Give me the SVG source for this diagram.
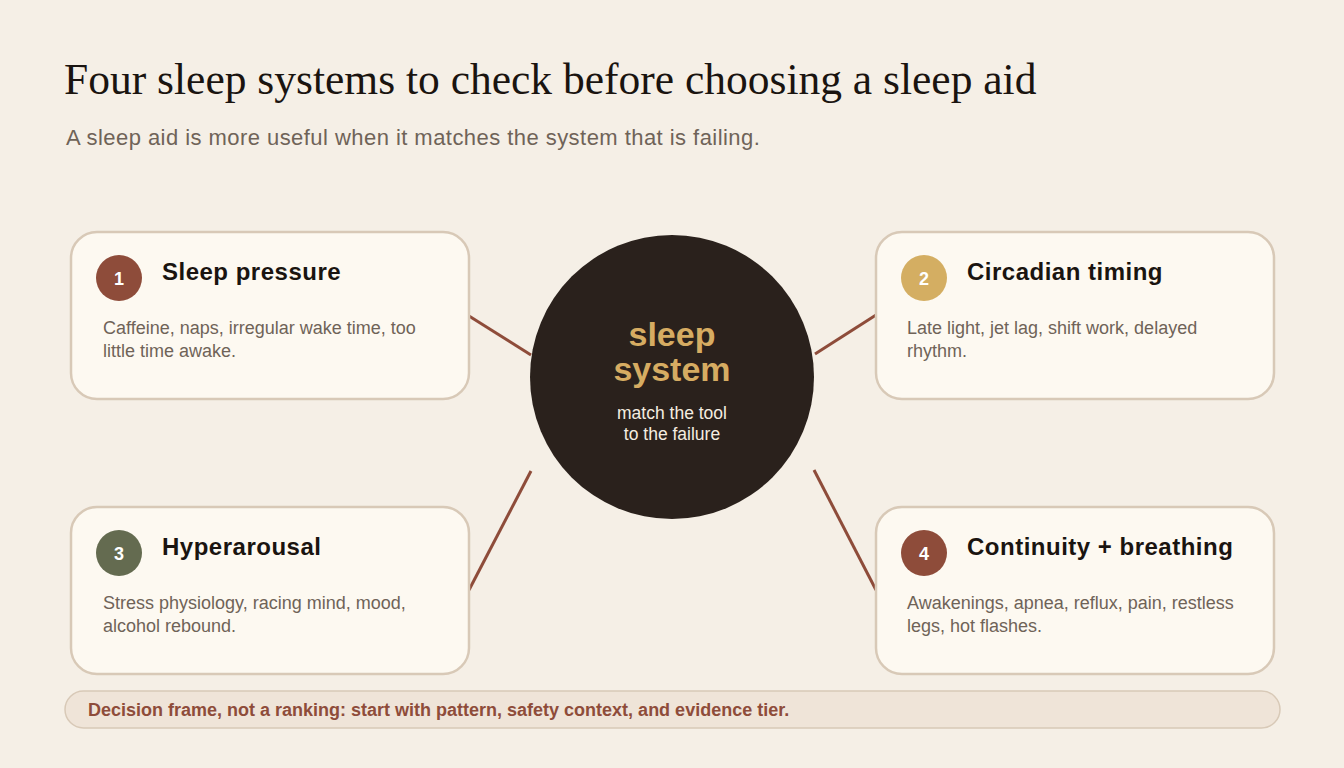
<svg xmlns="http://www.w3.org/2000/svg" width="1344" height="768" viewBox="0 0 1344 768">
<style>
.card{fill:#fdf9f1;stroke:#d8c9b7;stroke-width:2.5}
.num{font-family:"Liberation Sans",Arial,sans-serif;font-weight:bold;font-size:18px;fill:#ffffff;text-anchor:middle}
.ttl{font-family:"Liberation Sans",Arial,sans-serif;font-weight:bold;font-size:24px;letter-spacing:0.5px;fill:#1a1410}
.body{font-family:"Liberation Sans",Arial,sans-serif;font-size:18px;fill:#6f6358}
.conn{stroke:#8e4c3a;stroke-width:3;fill:none}
</style>
<rect width="1344" height="768" fill="#f5efe6"/>
<text x="64" y="94" font-family="Liberation Serif,Times New Roman,serif" font-size="43.5" fill="#1a1410">Four sleep systems to check before choosing a sleep aid</text>
<text x="66" y="145" font-family="Liberation Sans,Arial,sans-serif" font-size="22" letter-spacing="0.45" fill="#6f6358">A sleep aid is more useful when it matches the system that is failing.</text>
<g id="connectors">
<line class="conn" x1="469" y1="316" x2="531" y2="355"/>
<line class="conn" x1="815" y1="354" x2="876" y2="315"/>
<line class="conn" x1="531" y1="471" x2="469" y2="590"/>
<line class="conn" x1="814" y1="470" x2="876" y2="590"/>
</g>
<g id="center">
<circle cx="672" cy="377" r="142" fill="#2a211c"/>
<text x="672" y="346" text-anchor="middle" font-family="Liberation Sans,Arial,sans-serif" font-weight="bold" font-size="34" fill="#d6ac62">sleep</text>
<text x="672" y="381" text-anchor="middle" font-family="Liberation Sans,Arial,sans-serif" font-weight="bold" font-size="34" fill="#d6ac62">system</text>
<text x="672" y="419" text-anchor="middle" font-family="Liberation Sans,Arial,sans-serif" font-size="17.5" fill="#f5ede0">match the tool</text>
<text x="672" y="440" text-anchor="middle" font-family="Liberation Sans,Arial,sans-serif" font-size="17.5" fill="#f5ede0">to the failure</text>
</g>
<g id="card1">
<rect class="card" x="71" y="232" width="398" height="167" rx="26"/>
<circle cx="119" cy="278" r="23" fill="#8e4c3a"/>
<text class="num" x="119" y="285">1</text>
<text class="ttl" x="162" y="280">Sleep pressure</text>
<text class="body" x="103" y="334">Caffeine, naps, irregular wake time, too</text>
<text class="body" x="103" y="357">little time awake.</text>
</g>
<g id="card2">
<rect class="card" x="876" y="232" width="398" height="167" rx="26"/>
<circle cx="924" cy="278" r="23" fill="#d4ae62"/>
<text class="num" x="924" y="285">2</text>
<text class="ttl" x="967" y="280">Circadian timing</text>
<text class="body" x="907" y="334">Late light, jet lag, shift work, delayed</text>
<text class="body" x="907" y="357">rhythm.</text>
</g>
<g id="card3">
<rect class="card" x="71" y="507" width="398" height="167" rx="26"/>
<circle cx="119" cy="553" r="23" fill="#646b50"/>
<text class="num" x="119" y="560">3</text>
<text class="ttl" x="162" y="555">Hyperarousal</text>
<text class="body" x="103" y="609">Stress physiology, racing mind, mood,</text>
<text class="body" x="103" y="632">alcohol rebound.</text>
</g>
<g id="card4">
<rect class="card" x="876" y="507" width="398" height="167" rx="26"/>
<circle cx="924" cy="553" r="23" fill="#8e4c3a"/>
<text class="num" x="924" y="560">4</text>
<text class="ttl" x="967" y="555">Continuity + breathing</text>
<text class="body" x="907" y="609">Awakenings, apnea, reflux, pain, restless</text>
<text class="body" x="907" y="632">legs, hot flashes.</text>
</g>
<g id="footer">
<rect x="65" y="691" width="1215" height="37" rx="18.5" fill="#efe4d8" stroke="#d8c9b7" stroke-width="1.5"/>
<text x="88" y="716" font-family="Liberation Sans,Arial,sans-serif" font-weight="bold" font-size="18" fill="#8e4c3a">Decision frame, not a ranking: start with pattern, safety context, and evidence tier.</text>
</g>
</svg>
